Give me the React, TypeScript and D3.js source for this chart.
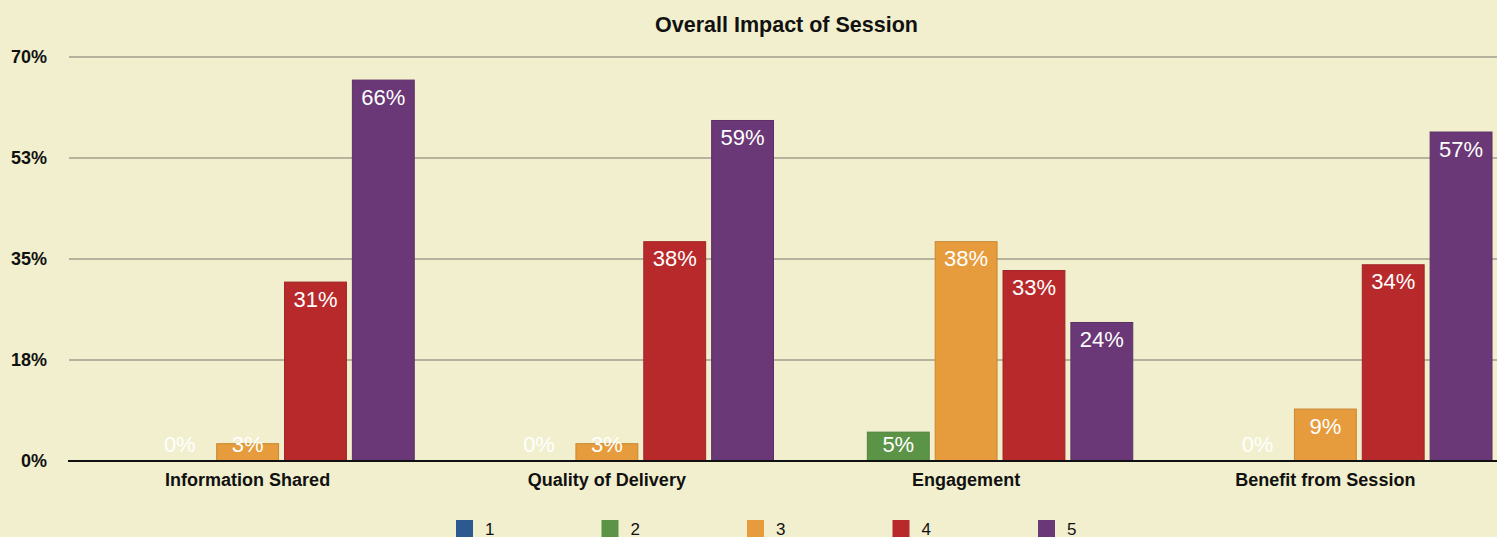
import * as d3 from "d3";
import React, { useEffect, useRef } from "react";

const categories = ["Information Shared", "Quality of Delivery", "Engagement", "Benefit from Session"];
const seriesNames = ["1", "2", "3", "4", "5"];
const seriesColors = ["#2c5a8e", "#5c9447", "#e69c3c", "#b8292b", "#6a3876"];

// series "1" has no values shown at all
const values1: (number | null)[] = [null, null, null, null];
const values2: (number | null)[] = [0, 0, 5, 0];
const values3: (number | null)[] = [3, 3, 38, 9];
const values4: (number | null)[] = [31, 38, 33, 34];
const values5: (number | null)[] = [66, 59, 24, 57];
const seriesValues = [values1, values2, values3, values4, values5];

const yTicks = [0, 17.5, 35, 52.5, 70];

export default function App() {
    const svgRef = useRef<SVGSVGElement>(null);

    useEffect(() => {
        const svg = d3.select(svgRef.current);
        const width = 1497;
        const height = 537;
        const margin = { top: 57, bottom: 76, left: 68 };

        svg.selectAll("*").remove();

        svg.append("rect")
            .attr("width", width)
            .attr("height", height)
            .attr("fill", "#f1efcd");

        const x0 = d3.scaleBand<string>()
            .domain(categories)
            .range([margin.left, 1505]);

        const x1 = d3.scaleBand<string>()
            .domain(seriesNames)
            .range([13, x0.bandwidth() - 13])
            .paddingInner(0.088);

        const y = d3.scaleLinear()
            .domain([0, 70])
            .range([height - margin.bottom, margin.top]);

        // gridlines
        svg.append("g")
            .selectAll("line")
            .data(yTicks.slice(1))
            .join("line")
            .attr("x1", margin.left + 1)
            .attr("x2", width)
            .attr("y1", (d) => y(d))
            .attr("y2", (d) => y(d))
            .attr("stroke", "#a09f8e")
            .attr("stroke-width", 1.5);

        // y tick labels
        svg.append("g")
            .selectAll("text")
            .data(yTicks)
            .join("text")
            .attr("x", 47)
            .attr("y", (d) => y(d) + 6)
            .attr("text-anchor", "end")
            .attr("font-family", "Liberation Sans, Arial, sans-serif")
            .attr("font-weight", "bold")
            .attr("font-size", 18)
            .attr("fill", "#111")
            .text((d) => `${Math.round(d)}%`);

        // bars
        const groups = svg.append("g")
            .selectAll("g")
            .data(categories)
            .join("g")
            .attr("transform", (d) => `translate(${x0(d)},0)`);

        const cells = groups.selectAll("g")
            .data((c, ci) => seriesNames.map((s, si) => ({ s, si, v: seriesValues[si][ci] })))
            .join("g");

        cells.filter((d) => d.v !== null && (d.v as number) > 0)
            .append("rect")
            .attr("x", (d) => x1(d.s)!)
            .attr("width", x1.bandwidth())
            .attr("y", (d) => y(d.v as number))
            .attr("height", (d) => y(0) - y(d.v as number))
            .attr("fill", (d) => seriesColors[d.si])
            .attr("stroke", (d) => d3.color(seriesColors[d.si])!.darker(0.4).formatHex())
            .attr("stroke-width", 1);

        cells.filter((d) => d.v !== null)
            .append("text")
            .attr("x", (d) => x1(d.s)! + x1.bandwidth() / 2)
            .attr("y", (d) => Math.min(y(d.v as number) + 24.5, y(0) - 9))
            .attr("text-anchor", "middle")
            .attr("font-family", "Liberation Sans, Arial, sans-serif")
            .attr("font-size", 22)
            .attr("fill", "#ffffff")
            .text((d) => `${d.v}%`);

        // zero axis line
        svg.append("line")
            .attr("x1", margin.left)
            .attr("x2", width)
            .attr("y1", y(0))
            .attr("y2", y(0))
            .attr("stroke", "#111")
            .attr("stroke-width", 2);

        // category labels
        svg.append("g")
            .selectAll("text")
            .data(categories)
            .join("text")
            .attr("x", (d) => x0(d)! + x0.bandwidth() / 2)
            .attr("y", 486)
            .attr("text-anchor", "middle")
            .attr("font-family", "Liberation Sans, Arial, sans-serif")
            .attr("font-weight", "bold")
            .attr("font-size", 18)
            .attr("fill", "#111")
            .text((d) => d);

        // title
        svg.append("text")
            .attr("x", (margin.left + 1505) / 2)
            .attr("y", 32)
            .attr("text-anchor", "middle")
            .attr("font-family", "Liberation Sans, Arial, sans-serif")
            .attr("font-weight", "bold")
            .attr("font-size", 21.5)
            .attr("fill", "#111")
            .text("Overall Impact of Session");

        // legend
        const legend = svg.append("g")
            .selectAll("g")
            .data(seriesNames)
            .join("g")
            .attr("transform", (d, i) => `translate(${456 + i * 145.5},520)`);

        legend.append("rect")
            .attr("width", 17)
            .attr("height", 17)
            .attr("fill", (d, i) => seriesColors[i]);

        legend.append("text")
            .attr("x", 29)
            .attr("y", 15)
            .attr("font-family", "Liberation Sans, Arial, sans-serif")
            .attr("font-size", 17)
            .attr("fill", "#111")
            .text((d) => d);
    }, []);

    return (
        <svg
            ref={svgRef}
            width={1497}
            height={537}
            style={{ position: "absolute", left: 0, top: 0 }}
        ></svg>
    );
}
